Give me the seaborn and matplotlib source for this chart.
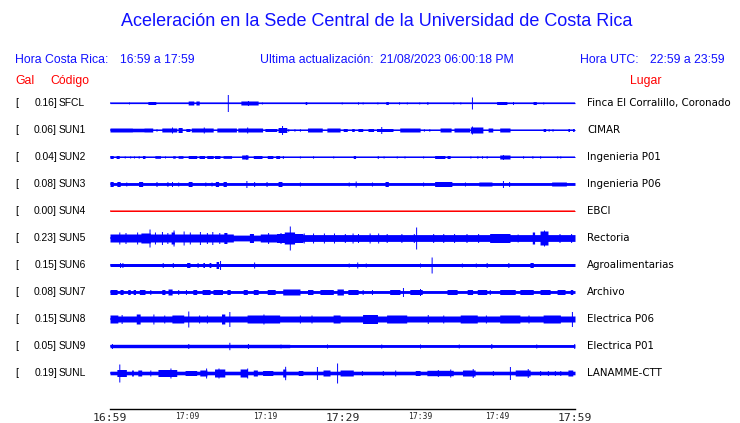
import numpy as np
import matplotlib
matplotlib.use("Agg")
import matplotlib.pyplot as plt
import seaborn as sns

# ---------------- data ----------------
title = "Aceleración en la Sede Central de la Universidad de Costa Rica"
hora_cr = "16:59 a 17:59"
ultima = "21/08/2023 06:00:18 PM"
hora_utc = "22:59 a 23:59"

codes = ["SFCL", "SUN1", "SUN2", "SUN3", "SUN4", "SUN5", "SUN6", "SUN7", "SUN8", "SUN9", "SUNL"]
gal = ["0.16", "0.06", "0.04", "0.08", "0.00", "0.23", "0.15", "0.08", "0.15", "0.05", "0.19"]
places = ["Finca El Corralillo, Coronado", "CIMAR", "Ingenieria P01", "Ingenieria P06", "EBCI",
          "Rectoria", "Agroalimentarias", "Archivo", "Electrica P06", "Electrica P01", "LANAMME-CTT"]

tick_minutes = [0, 10, 20, 30, 40, 50, 60]
tick_labels = ["16:59", "17:09", "17:19", "17:29", "17:39", "17:49", "17:59"]
minor_minutes = [5, 15, 25, 35, 45, 55]

# trace envelopes: (start minute, end minute, half amplitude)
base_sfcl = [(0, 60, 0.6)]
sfcl = [(2.45, 2.45, 1.0), (4.9, 5.9, 1.5), (10.1, 10.8, 2.0), (11.1, 11.5, 2.0), (15.2, 15.2, 8.5),
        (16.9, 19.1, 2.0), (17.8, 17.8, 2.5), (19.6, 19.6, 1.0), (25.2, 25.4, 1.5), (29.9, 29.9, 1.0),
        (32.0, 32.0, 1.2), (32.6, 32.6, 1.0), (34.5, 34.5, 1.0), (35.6, 35.9, 1.5), (37.3, 37.3, 1.2),
        (38.3, 38.3, 1.0), (39.9, 39.9, 1.0), (40.9, 41.0, 1.5), (44.3, 44.3, 1.0), (45.2, 45.2, 1.0),
        (46.7, 46.7, 6.0), (49.9, 51.2, 1.5), (52.0, 52.0, 1.5), (54.6, 55.0, 1.5), (55.9, 55.9, 1.0)]

base_sun1 = [(0, 60, 0.5)]
sun1 = [(0, 2.9, 2), (2.9, 4.4, 1.8), (4.4, 5.5, 2), (6.0, 6.0, 1.2), (6.7, 8.6, 2), (8.0, 8.0, 3),
        (8.8, 9.3, 2.5), (9.8, 10.3, 1.5), (10.5, 13.3, 2), (12.1, 12.1, 3), (13.8, 16.3, 2),
        (16.5, 19.7, 2), (17.7, 17.7, 3), (20.0, 21.5, 1.5), (21.7, 22.8, 2.5), (22.2, 22.2, 4.5),
        (23.0, 23.0, 1.2), (23.8, 23.8, 1.2), (24.5, 24.5, 1.2), (25.5, 27.4, 2), (28.0, 29.7, 2),
        (30.1, 30.6, 1.5), (31.2, 31.5, 1.5), (32.0, 32.6, 1.5), (33.3, 34.0, 1.5), (34.4, 36.5, 1.5),
        (35.0, 35.0, 3.5), (37.4, 40.0, 2), (40.5, 40.5, 1.2), (41.2, 41.2, 1.2), (42.6, 44.0, 2),
        (44.4, 46.4, 2), (46.5, 48.1, 3), (46.7, 46.7, 4), (48.8, 49.4, 2), (50.3, 51.6, 2),
        (55.9, 56.2, 1.5), (56.6, 56.6, 1.2), (57.1, 57.1, 1.2), (59.1, 59.3, 1.5), (59.7, 59.9, 1.5)]

base_sun2 = [(0, 60, 0.5)]
sun2 = [(0, 0.4, 1.5), (0.8, 1.2, 1.5), (1.9, 1.9, 1), (2.6, 2.6, 1), (3.1, 3.1, 1), (3.7, 3.7, 1.2),
        (4.2, 4.5, 1.5), (5.8, 6.5, 1.3), (7.1, 7.1, 1), (8.1, 8.4, 1.2), (8.8, 9.4, 1.3), (10.1, 11.2, 1.5),
        (11.5, 12.2, 1.5), (12.5, 13.3, 1.5), (13.5, 14.2, 1.5), (14.6, 15.7, 1.3), (17.0, 17.8, 2),
        (17.6, 17.6, 2.5), (18.5, 19.6, 1.5), (20.3, 21.0, 1.5), (21.4, 21.9, 1.5), (22.3, 22.3, 1.5),
        (24.5, 24.5, 1), (26.2, 26.2, 1.2), (28.8, 28.8, 1), (31.4, 31.7, 1.5), (34.5, 34.6, 1.5),
        (35.3, 35.3, 1), (37.0, 37.0, 1), (38.0, 38.0, 1), (40.4, 40.4, 1), (41.9, 43.2, 1.5),
        (43.5, 43.9, 1.5), (46.5, 46.5, 1), (47.4, 47.4, 1.2), (48.0, 48.0, 1.2), (48.6, 48.6, 1.2),
        (50.3, 51.6, 2), (50.7, 50.7, 2.5), (53.3, 53.3, 1.2), (54.5, 54.5, 1.2), (55.5, 55.5, 1.2),
        (57.7, 57.7, 1), (58.1, 58.1, 1)]

base_sun3 = [(0, 60, 1.4)]
sun3 = [(0, 0.4, 2.5), (0.9, 1.3, 2.5), (2.1, 2.1, 2), (3.7, 4.2, 2.5), (6.0, 6.0, 2.5), (7.3, 7.5, 2),
        (8.0, 8.0, 2.5), (8.8, 8.8, 2), (10.1, 10.6, 2.5), (12.3, 12.3, 2), (13.1, 13.1, 2), (13.6, 14.0, 2.5),
        (14.6, 15.0, 2.5), (17.6, 17.6, 3.5), (18.6, 18.6, 2.5), (20.2, 20.2, 2.5), (21.7, 22.2, 2.5),
        (24.5, 24.5, 2), (30.8, 30.8, 2), (31.7, 31.7, 3), (33.8, 33.8, 2), (35.5, 35.9, 2.5),
        (40.4, 40.4, 2), (41.9, 44.1, 2.5), (45.8, 45.8, 2), (47.6, 49.3, 2), (50.7, 50.7, 3.5),
        (51.5, 51.5, 2.5), (57.0, 58.9, 2)]

base_sun4 = [(0, 60, 0.5)]
sun4 = []

base_sun5 = [(0, 15.9, 4.0), (15.9, 19.4, 2.9), (19.4, 21.5, 4.0), (21.5, 24.9, 4.5), (24.9, 60, 3.4)]
sun5 = [(1.2, 1.2, 6), (2.0, 2.0, 5.5), (3.5, 3.5, 6), (4.0, 5.2, 5), (5.1, 5.1, 9), (5.8, 5.8, 6),
        (6.7, 6.7, 6.5), (7.4, 7.4, 5.5), (7.9, 8.3, 6), (8.2, 8.2, 8), (9.5, 9.5, 7), (10.3, 10.3, 6),
        (11.6, 11.6, 6.5), (12.5, 12.5, 5.5), (13.2, 13.2, 6.5), (14.1, 14.1, 5.5), (14.7, 15.1, 5.5),
        (18.0, 18.5, 4.5), (20.4, 20.4, 5.5), (22.0, 22.0, 5.5), (22.5, 23.8, 6), (23.2, 23.2, 12),
        (25.0, 25.0, 5), (26.2, 26.2, 5), (27.6, 27.6, 5), (28.9, 28.9, 5), (30.3, 30.3, 4.5),
        (31.3, 31.3, 5), (32.0, 32.0, 4.5), (33.5, 33.5, 5), (34.6, 34.6, 5), (35.7, 35.7, 4.5),
        (37.6, 37.6, 4.5), (39.2, 39.2, 4.5), (39.5, 39.5, 11), (41.7, 41.7, 4.5), (43.0, 43.0, 4.5),
        (44.4, 44.4, 4.5), (46.0, 46.0, 4.5), (47.5, 47.5, 4.5), (49.0, 51.6, 4.5), (52.6, 52.6, 4),
        (54.5, 54.8, 6), (55.5, 56.5, 7), (56.0, 56.0, 8), (58.0, 58.0, 4.5), (59.5, 59.5, 4.5)]

base_sun6 = [(0, 60, 1.5)]
sun6 = [(1.3, 1.3, 2.5), (1.6, 1.6, 2.5), (6.8, 6.8, 2.5), (8.1, 8.1, 2.5), (9.9, 10.3, 2.5),
        (11.3, 11.3, 2.5), (12.0, 12.2, 2.5), (12.8, 13.0, 2.5), (13.7, 14.0, 3.5), (14.2, 14.2, 4.5),
        (18.6, 18.6, 3), (30.8, 30.8, 2), (31.9, 31.9, 3), (33.0, 33.0, 2), (40.0, 40.0, 2),
        (41.5, 41.5, 8), (45.4, 45.4, 2), (47.2, 47.2, 2), (48.6, 48.6, 2.5), (51.4, 51.4, 2.5),
        (54.2, 54.6, 2.5)]

base_sun7 = [(0, 60, 1.4)]
sun7 = [(0, 0.9, 2.5), (1.3, 1.7, 2.5), (2.3, 2.6, 2.5), (3.0, 3.3, 2.5), (3.8, 4.5, 2.5), (5.2, 5.2, 2.5),
        (6.7, 7.1, 2.5), (7.5, 8.0, 3), (8.8, 8.8, 2.5), (9.8, 9.8, 2.5), (10.7, 11.2, 2.5), (11.9, 12.9, 2.5),
        (13.3, 14.5, 2.5), (15.1, 15.5, 2.5), (17.2, 17.7, 2.5), (18.5, 19.1, 2.5), (20.3, 21.3, 2.5),
        (22.3, 24.5, 3), (25.5, 26.2, 2.5), (27.1, 28.8, 2.5), (29.3, 30.1, 3), (30.7, 32.0, 2.5),
        (32.6, 32.6, 2.5), (33.8, 33.8, 2.5), (36.1, 37.4, 2.5), (37.8, 37.8, 4.5), (38.7, 40.3, 2.5),
        (40.0, 40.0, 3.5), (43.5, 44.8, 2.5), (46.1, 46.8, 2.5), (47.4, 48.6, 2.5), (49.0, 49.0, 2.5),
        (50.3, 52.3, 2.5), (52.9, 54.6, 2.5), (55.5, 56.8, 2.5), (57.7, 58.7, 2.5), (59.4, 59.7, 2.5)]

base_sun8 = [(0, 60, 3.0)]
sun8 = [(0, 1.0, 4), (1.5, 1.5, 4.5), (3.4, 3.9, 5), (5.6, 5.6, 5), (7.0, 7.0, 4), (8.0, 9.5, 4),
        (10.1, 10.1, 8), (11.5, 11.5, 4), (12.5, 12.5, 4), (14.4, 14.8, 5), (15.4, 15.4, 7.5),
        (17.7, 21.9, 4), (19.8, 19.8, 5), (24.5, 24.5, 4), (26.0, 26.0, 4), (28.8, 29.7, 4),
        (32.6, 34.5, 4.5), (35.7, 38.3, 4), (41.0, 41.0, 4.5), (43.0, 43.0, 4), (45.2, 47.4, 4),
        (48.5, 48.5, 4), (50.3, 52.9, 4), (54.0, 54.0, 4), (55.9, 58.1, 4), (59.6, 59.6, 7.5)]

base_sun9 = [(0, 23.2, 1.7), (23.2, 60, 1.4)]
sun9 = [(0.25, 0.25, 2.5), (10.1, 10.1, 2.5), (15.4, 15.4, 3.7), (17.8, 17.8, 2.5), (22.0, 22.0, 2),
        (28.0, 28.0, 2), (35.0, 35.0, 2), (40.0, 40.0, 2), (45.0, 45.0, 2), (49.2, 49.2, 2.5),
        (55.0, 55.0, 2), (59.9, 59.9, 2.5)]

base_sunl = [(0, 60, 1.8)]
sunl = [(0.9, 2.1, 3.5), (1.2, 1.2, 9), (2.8, 3.0, 3), (3.6, 4.1, 3), (5.2, 5.2, 3), (6.2, 8.6, 3.5),
        (7.8, 7.8, 5), (9.7, 11.2, 2.5), (11.6, 12.5, 3), (12.4, 12.4, 5), (13.5, 14.8, 4), (14.0, 14.0, 5),
        (16.8, 17.7, 4), (17.7, 17.7, 5), (18.5, 19.0, 3), (19.7, 21.0, 2.5), (22.3, 22.7, 4),
        (22.6, 22.6, 6.7), (24.3, 24.9, 2.5), (26.7, 26.7, 6.5), (27.5, 28.4, 3), (29.3, 29.3, 10),
        (29.7, 31.4, 3), (32.5, 32.5, 2.5), (35.2, 35.2, 2.5), (36.8, 36.8, 3), (39.4, 40.0, 2.5),
        (40.9, 44.3, 2.7), (42.3, 42.3, 3.5), (43.9, 43.9, 4), (45.5, 47.1, 3), (46.8, 46.8, 4.5),
        (49.4, 49.4, 2.5), (51.6, 51.6, 6.5), (52.3, 54.2, 3), (53.9, 53.9, 4.5), (55.5, 55.5, 2.5),
        (56.5, 56.5, 2.5), (57.4, 57.4, 2.5), (58.1, 58.1, 2.5), (59.1, 59.7, 3)]

bases = [base_sfcl, base_sun1, base_sun2, base_sun3, base_sun4, base_sun5,
         base_sun6, base_sun7, base_sun8, base_sun9, base_sunl]
bursts = [sfcl, sun1, sun2, sun3, sun4, sun5, sun6, sun7, sun8, sun9, sunl]
trace_colors = ["blue", "blue", "blue", "blue", "red", "blue", "blue", "blue", "blue", "blue", "blue"]

# ---------------- drawing ----------------
sns.set_style("white")
plt.rcParams["font.family"] = ["Liberation Sans", "DejaVu Sans"]

W, H = 740, 423
fig = plt.figure(figsize=(W / 100, H / 100), dpi=100)
fig.patch.set_facecolor("white")

def fx(px):
    return px / W

def fy(py):
    return 1 - py / H

ax_top, ax_bot = 88, 409
ax = fig.add_axes([fx(110), fy(ax_bot), fx(575) - fx(110), (ax_bot - ax_top) / H])
ax.set_xlim(0, 60)
ax.set_ylim(ax_bot, ax_top)

t = np.linspace(0, 60, 2401)
spike_w = 0.07

for i, code in enumerate(codes):
    y0 = 103 + 27 * i
    env = np.zeros_like(t)
    for a, b, h in bases[i] + bursts[i]:
        if a == b:
            m = np.abs(t - a) <= spike_w
        else:
            m = (t >= a) & (t <= b)
        env[m] = np.maximum(env[m], h)
    col = trace_colors[i]
    sns.lineplot(x=t, y=np.full_like(t, y0), ax=ax, color=col, lw=0.8, estimator=None)
    ax.fill_between(t, y0 - env, y0 + env, step="mid", color=col, lw=0)

# axes styling
for s in ["top", "left", "right"]:
    ax.spines[s].set_visible(False)
ax.spines["bottom"].set_color("black")
ax.spines["bottom"].set_linewidth(1.0)
ax.set_yticks([])
ax.set_xticks(tick_minutes)
ax.set_xticklabels(tick_labels)
ax.set_xticks(minor_minutes, minor=True)
ax.tick_params(axis="x", which="both", direction="in", length=7, width=1, color="black")
for tk, lbl, m in zip(ax.xaxis.get_major_ticks(), ax.get_xticklabels(), tick_minutes):
    lbl.set_family("DejaVu Sans Mono")
    lbl.set_va("baseline")
    if m in (0, 30, 60):
        lbl.set_fontsize(8.2)
        tk.set_pad(8.6)
    else:
        lbl.set_fontsize(5.8)
        tk.set_pad(7.0)
ax.set_xlabel("")
ax.set_ylabel("")
ax.patch.set_alpha(0)

# header text
blue = "#1010ff"
fig.text(fx(377), fy(22), title, ha="center", va="center", color=blue, fontsize=13)
fig.text(fx(15), fy(60), "Hora Costa Rica:", ha="left", va="center", color=blue, fontsize=8.8)
fig.text(fx(120), fy(60), hora_cr, ha="left", va="center", color=blue, fontsize=8.8)
fig.text(fx(260), fy(60), "Ultima actualización:", ha="left", va="center", color=blue, fontsize=8.8)
fig.text(fx(380), fy(60), ultima, ha="left", va="center", color=blue, fontsize=8.8)
fig.text(fx(580), fy(60), "Hora UTC:", ha="left", va="center", color=blue, fontsize=8.8)
fig.text(fx(650), fy(60), hora_utc, ha="left", va="center", color=blue, fontsize=8.8)
fig.text(fx(15), fy(81), "Gal", ha="left", va="center", color="red", fontsize=8.8)
fig.text(fx(50), fy(81), "Código", ha="left", va="center", color="red", fontsize=8.8)
fig.text(fx(630), fy(81), "Lugar", ha="left", va="center", color="red", fontsize=8.8)

for i, code in enumerate(codes):
    y = fy(103 + 27 * i)
    fig.text(fx(15), y, "[", ha="left", va="center", color="black", fontsize=7.4)
    fig.text(fx(57), y, gal[i] + "]", ha="right", va="center", color="black", fontsize=7.4)
    fig.text(fx(59), y, code, ha="left", va="center", color="black", fontsize=7.4)
    fig.text(fx(587), y, places[i], ha="left", va="center", color="black", fontsize=7.4,
             family="DejaVu Sans")

fig.savefig("out.png", dpi=100, facecolor="white")
